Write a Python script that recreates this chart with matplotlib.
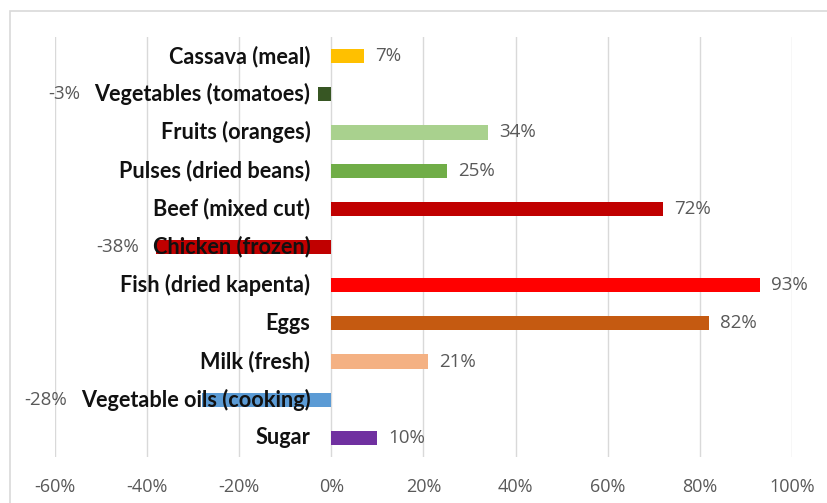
import matplotlib
matplotlib.use("Agg")
import matplotlib.pyplot as plt
from matplotlib.patches import Rectangle
from matplotlib.ticker import FuncFormatter, MultipleLocator

# Price change by food item
categories = [
    "Cassava (meal)", "Vegetables (tomatoes)", "Fruits (oranges)",
    "Pulses (dried beans)", "Beef (mixed cut)", "Chicken (frozen)",
    "Fish (dried kapenta)", "Eggs", "Milk (fresh)",
    "Vegetable oils (cooking)", "Sugar",
]
changes = [0.07, -0.03, 0.34, 0.25, 0.72, -0.38, 0.93, 0.82, 0.21, -0.28, 0.10]
colors = [
    "#FFC000", "#375623", "#A9D18E", "#70AD47", "#C00000", "#C00000",
    "#FF0000", "#C55A11", "#F4B183", "#5B9BD5", "#7030A0",
]
tick_values = [-0.6, -0.4, -0.2, 0.0, 0.2, 0.4, 0.6, 0.8, 1.0]

W, H = 828, 503
fig = plt.figure(figsize=(W / 100, H / 100), dpi=100)
fig.patch.set_facecolor("white")

# outer chart border
fig.patches.append(Rectangle((10 / W, -0.1), 1.2, 1 - 11 / H + 0.1,
                             transform=fig.transFigure, fill=False,
                             edgecolor="#D9D9D9", linewidth=1.2))

ax = fig.add_axes([55 / W, 1 - 457 / H, (792 - 55) / W, (457 - 37) / H])
n = len(categories)
ypos = list(range(n))
ax.barh(ypos, changes, height=0.37, color=colors, zorder=2)
ax.set_ylim(n - 0.5, -0.5)
ax.set_xlim(tick_values[0], tick_values[-1])
ax.xaxis.set_major_locator(MultipleLocator(0.2))
ax.xaxis.set_major_formatter(FuncFormatter(lambda v, p: f"{v * 100:.0f}%"))
ax.grid(axis="x", color="#D9D9D9", linewidth=1.0, zorder=0)
ax.set_yticks([])
for s in ax.spines.values():
    s.set_visible(False)
ax.tick_params(axis="x", length=0, pad=15, labelsize=13, labelcolor="#595959")
for t in ax.get_xticklabels():
    t.set_family("Open Sans")

label_font = dict(family="Lato", fontweight="bold", fontsize=15.6, color="#111111")
value_font = dict(family="Open Sans", fontsize=13.5, color="#595959")

fig.canvas.draw()
renderer = fig.canvas.get_renderer()
inv = ax.transData.inverted()
gap_px = 21
for y, name, v in zip(ypos, categories, changes):
    # category name sits just left of the zero line
    x0_px = ax.transData.transform((0, y))[0] - gap_px
    xd = inv.transform((x0_px, 0))[0]
    txt = ax.text(xd, y, name, ha="right", va="center", zorder=4, **label_font)
    if v >= 0:
        ax.annotate(f"{v * 100:.0f}%", (v, y), xytext=(8, 0),
                    textcoords="offset points", ha="left", va="center", **value_font)
    else:
        bb = txt.get_window_extent(renderer)
        left = min(bb.x0, ax.transData.transform((v, y))[0])
        lx = inv.transform((left - 14, 0))[0]
        ax.text(lx, y, f"{v * 100:.0f}%", ha="right", va="center", **value_font)

fig.savefig("out.png", dpi=100, facecolor="white")
